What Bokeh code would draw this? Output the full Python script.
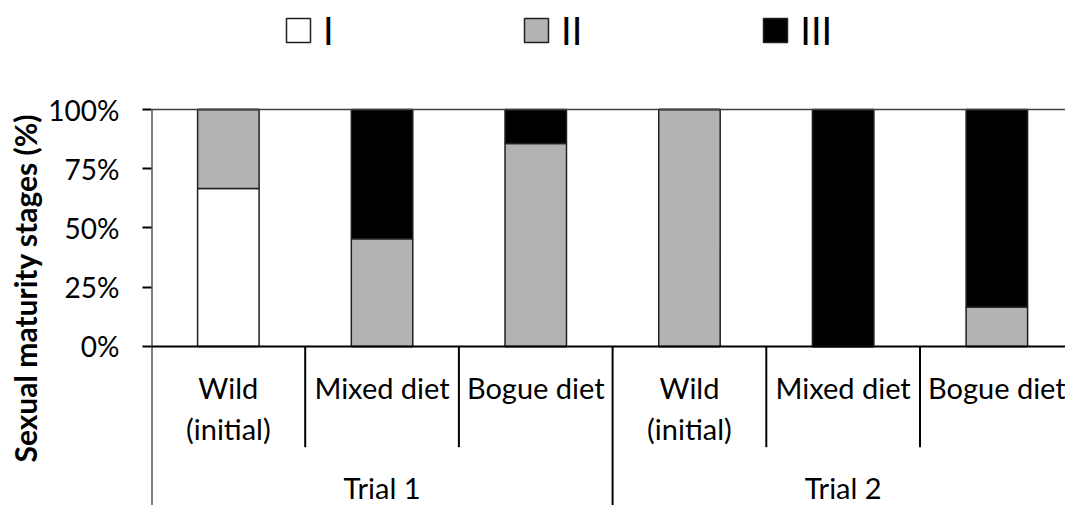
from bokeh.plotting import figure
from bokeh.models import (ColumnDataSource, Range1d, LinearAxis, FixedTicker,
                          PrintfTickFormatter, Span, Title)
from bokeh.core.properties import value
from bokeh.embed import file_html
from bokeh.resources import INLINE

# Categories: two trials, three fish groups each
trials = ["Trial 1", "Trial 2"]
group_line1 = ["Wild", "Mixed diet", "Bogue diet"]
group_line2 = ["(initial)", "", ""]

# Share of fish (%) at each sexual maturity stage, per group
stage_I = [66.7, 0, 0, 0, 0, 0]
stage_II = [33.3, 45.5, 85.7, 100, 0, 16.7]
stage_III = [0, 54.5, 14.3, 0, 100, 83.3]

stages = ["I", "II", "III"]
stage_colors = ["#FFFFFF", "#B3B3B3", "#000000"]
y_ticks = [0, 25, 50, 75, 100]

FONT = "Lato"
CAT_SIZE = "29px"
n_groups = len(group_line1)
n_bars = len(trials) * n_groups
x_centers = [i + 0.5 for i in range(n_bars)]

source = ColumnDataSource(dict(x=x_centers, I=stage_I, II=stage_II, III=stage_III))

px_per_slot = 153.7
frame_left = 151
W, H = 1065, 505
y_start, y_end = -67.1, 146.0

p = figure(width=W, height=H, output_backend="svg", toolbar_location=None,
           x_axis_type=None, y_axis_type=None,
           x_range=Range1d(0, (W - frame_left) / px_per_slot),
           y_range=Range1d(y_start, y_end),
           min_border_left=frame_left, min_border_right=0,
           min_border_top=0, min_border_bottom=0)
p.outline_line_color = None
p.xgrid.visible = False
p.ygrid.visible = False
p.background_fill_color = "white"

renderers = p.vbar_stack(stages, x="x", width=0.4, source=source,
                         fill_color=stage_colors, line_color="#202020",
                         line_width=1.5, legend_label=stages)

# Baseline and top line of the plotting area
p.add_layout(Span(location=0, dimension="width", line_color="black", line_width=2))
p.add_layout(Span(location=100, dimension="width", line_color="#404040", line_width=1.5))

# Value axis; its rule is drawn by the left separator line below
yaxis = LinearAxis(bounds=(0, 100), ticker=FixedTicker(ticks=y_ticks),
                   formatter=PrintfTickFormatter(format="%d%%"))
yaxis.axis_line_color = None
yaxis.major_tick_line_width = 2
yaxis.major_tick_line_color = "black"
yaxis.major_tick_out = 9
yaxis.major_tick_in = 0
yaxis.minor_tick_line_color = None
yaxis.major_label_standoff = 23
yaxis.major_label_text_font = FONT
yaxis.major_label_text_font_size = "28px"
yaxis.major_label_text_color = "black"
p.add_layout(yaxis, "left")

# Axis title, anchored near the bottom of the left side
ytitle = Title(text="Sexual maturity stages (%)", align="left", offset=43,
               text_font=FONT, text_font_size="30px", text_font_style="bold",
               text_color="black", standoff=6)
p.add_layout(ytitle, "left")

# Category separators below the baseline (the first one doubles as the value-axis rule)
short_end = -42.5
sep_x, sep_y0, sep_y1 = [], [], []
for b in range(n_bars + 1):
    sep_x.append(b)
    sep_y0.append(100 if b == 0 else 0)
    sep_y1.append(y_start - 5 if b % n_groups == 0 else short_end)
p.segment(x0=sep_x, y0=sep_y0, x1=sep_x, y1=sep_y1,
          line_color="black", line_width=2)

# Group labels (two lines) and trial labels
line1_txt = group_line1 * len(trials)
line2_txt = group_line2 * len(trials)
p.text(x=x_centers, y=[-17.3] * n_bars, text=line1_txt,
       text_font=value(FONT), text_font_size=CAT_SIZE, text_align="center",
       text_baseline="middle", text_color="black")
p.text(x=x_centers, y=[-34.6] * n_bars, text=line2_txt,
       text_font=value(FONT), text_font_size=CAT_SIZE, text_align="center",
       text_baseline="middle", text_color="black")
trial_x = [t * n_groups + n_groups / 2 for t in range(len(trials))]
p.text(x=trial_x, y=[-59.4] * len(trials), text=trials,
       text_font=value(FONT), text_font_size=CAT_SIZE, text_align="center",
       text_baseline="middle", text_color="black")

leg = p.legend[0]
leg.orientation = "horizontal"
leg.location = (132, 452)
leg.spacing = 178
leg.glyph_width = 30
leg.glyph_height = 30
leg.label_standoff = 10
leg.label_text_font = FONT
leg.label_text_font_size = "38px"
leg.label_text_color = "black"
leg.padding = 0
leg.margin = 0
leg.border_line_color = None
leg.background_fill_alpha = 0

open("out.html", "w").write(file_html(p, INLINE))
